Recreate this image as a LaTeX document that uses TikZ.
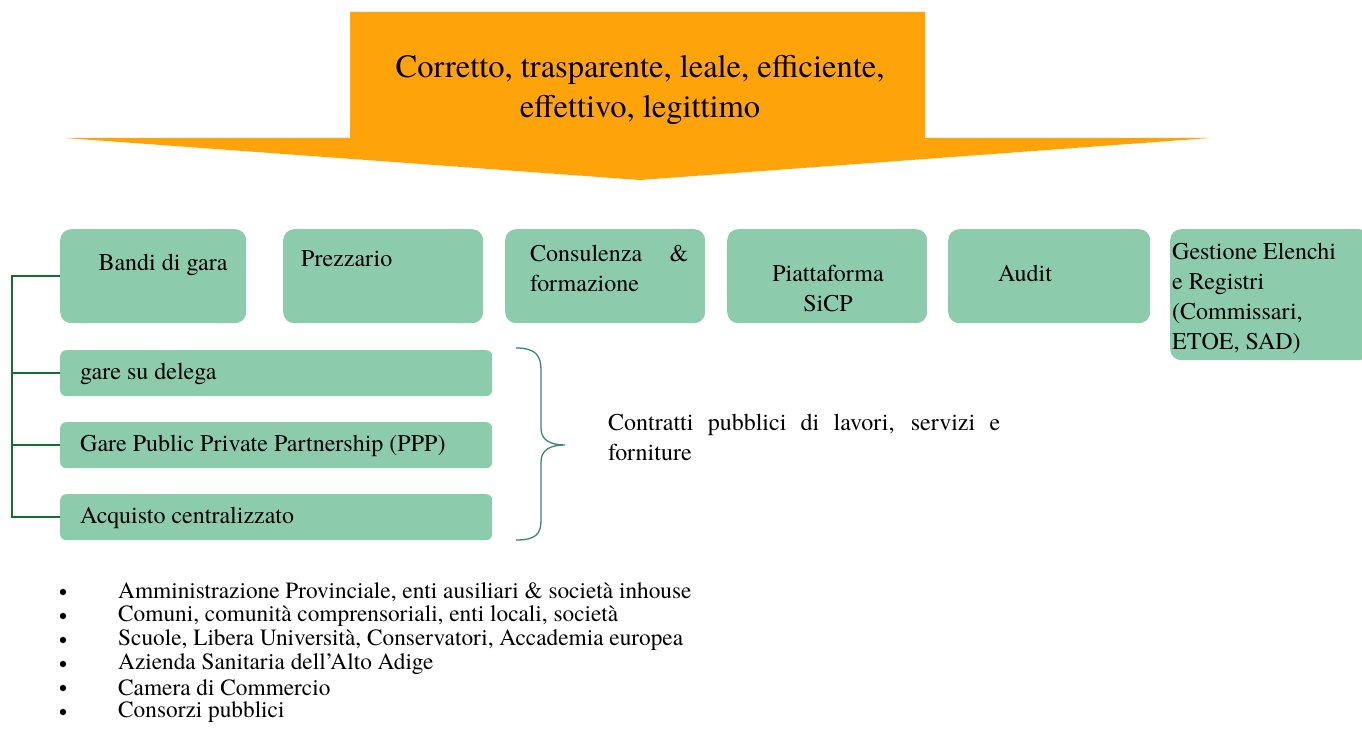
\documentclass[tikz,border=0pt]{standalone}
\usepackage{fontspec}
\setmainfont{texgyretermes}[Extension=.otf, UprightFont=*-regular, BoldFont=*-bold, ItalicFont=*-italic, BoldItalicFont=*-bolditalic]
\usetikzlibrary{positioning}
\definecolor{orng}{RGB}{255,163,10}
\definecolor{gfill}{RGB}{140,204,172}
\definecolor{gline}{RGB}{20,110,50}
\definecolor{bline}{RGB}{60,135,115}
\tikzset{
  gbox/.style={fill=gfill, rounded corners=11pt, inner sep=0pt, anchor=north west},
  btxt/.style={font=\fontsize{24}{30}\selectfont, inner sep=0pt, align=left},
  ctxt/.style={font=\fontsize{24}{30}\selectfont, inner sep=0pt, align=center},
  conn/.style={draw=gline, line width=1.5pt},
  bullettxt/.style={font=\fontsize{23.3}{24}\selectfont, inner sep=0pt, anchor=west}
}
\begin{document}
\begin{tikzpicture}[x=1pt,y=-1pt]
\useasboundingbox (0,0) rectangle (1362,746);
\fill[white] (0,0) rectangle (1362,746);
% big arrow
\fill[orng] (350,12) -- (925,12) -- (925,138) -- (1210,138) -- (640,180) -- (65,138) -- (350,138) -- cycle;
\node[font=\fontsize{32.5}{40}\selectfont, align=center, inner sep=0pt] (head) at (640,90)
  {Corretto, trasparente, leale, efficiente,\\effettivo, legittimo};
% top row boxes
\node[gbox, minimum width=186pt, minimum height=94pt] (b1) at (60,229) {};
\node[gbox, minimum width=200pt, minimum height=94pt] (b2) at (283,229) {};
\node[gbox, minimum width=200pt, minimum height=94pt] (b3) at (505,229) {};
\node[gbox, minimum width=200pt, minimum height=94pt] (b4) at (727,229) {};
\node[gbox, minimum width=202pt, minimum height=94pt] (b5) at (948,229) {};
\node[gbox, minimum width=200pt, minimum height=131pt] (b6) at (1170,229) {};
\node[ctxt] (t1) at (163,265) {Bandi di gara};
\node[btxt, anchor=west] (t2) at (301,259) {Prezzario};
\node[btxt, anchor=north west, text width=158pt, align=justify] (t3) at (530,245) {Consulenza \hfill \&\\formazione};
\node[ctxt] (t4) at (828,288) {Piattaforma\\SiCP};
\node[ctxt] (t5) at (1025,273) {Audit};
\begin{scope}
\clip (1170,229) rectangle (1362,358);
\node[btxt, anchor=north west] (t6) at (1172,243)
  {Gestione Elenchi\\e Registri\\(Commissari,\\ETOE, SAD)};
\end{scope}
% lower boxes
\node[gbox, rounded corners=6pt, minimum width=432pt, minimum height=46pt] (l1) at (60,350) {};
\node[gbox, rounded corners=6pt, minimum width=432pt, minimum height=46pt] (l2) at (60,422) {};
\node[gbox, rounded corners=6pt, minimum width=432pt, minimum height=46pt] (l3) at (60,494) {};
\node[btxt, anchor=west] (u1) at (80,374) {gare su delega};
\node[btxt, anchor=west] (u2) at (80,446) {Gare Public Private Partnership (PPP)};
\node[btxt, anchor=west] (u3) at (80,518) {Acquisto centralizzato};
% left connector
\coordinate (sp) at (12,276);
\draw[conn] (b1.west |- sp) -- (sp) |- (l3.west);
\draw[conn] (l1.west) -- (l1.west -| sp);
\draw[conn] (l2.west) -- (l2.west -| sp);
% brace
\coordinate (br) at (565,445);
\draw[draw=bline, line width=1.3pt] (516,348) .. controls (536,348) and (541,356) .. (541,370)
  -- (541,428) .. controls (541,440) and (550,445) .. (br)
  .. controls (550,445) and (541,450) .. (541,462)
  -- (541,520) .. controls (541,534) and (536,540) .. (516,540);
\node[btxt, anchor=north west, text width=392pt, align=justify] (ct) at (608,414)
  {Contratti pubblici di lavori, servizi e\linebreak forniture};
% bullets
\foreach \y/\t [count=\i] in {592/{Amministrazione Provinciale, enti ausiliari \& società inhouse},
  616/{Comuni, comunità comprensoriali, enti locali, società},
  640/{Scuole, Libera Università, Conservatori, Accademia europea},
  664/{Azienda Sanitaria dell’Alto Adige},
  688/{Camera di Commercio},
  712/{Consorzi pubblici}} {
  \fill (63,\y) circle (3.2pt);
  \node[bullettxt] (bl\i) at (118,\y) {\t};
}
\end{tikzpicture}
\end{document}
